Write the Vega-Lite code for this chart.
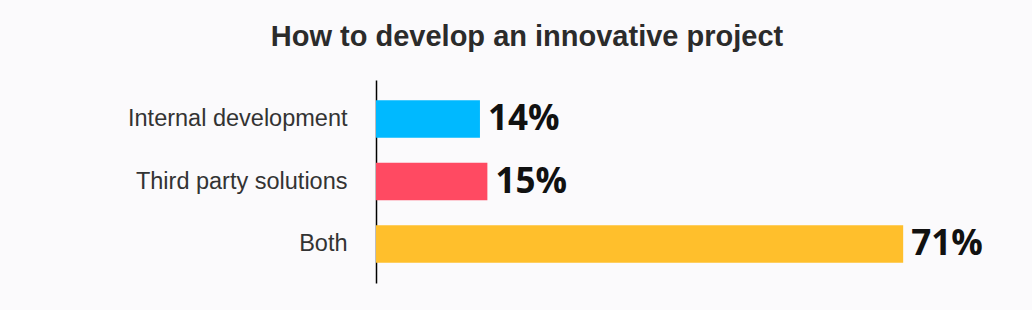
{
  "$schema": "https://vega.github.io/schema/vega-lite/v6.json",
  "width": 594,
  "height": 203,
  "autosize": {"type": "none"},
  "padding": {"left": 376, "top": 80, "right": 62, "bottom": 27},
  "background": "#fbfafc",
  "config": {"view": {"stroke": null}},
  "title": {
    "text": "How to develop an innovative project",
    "font": "Liberation Sans",
    "fontSize": 29,
    "fontWeight": "bold",
    "color": "#2b2b2b",
    "anchor": "middle",
    "frame": "group",
    "dx": -146,
    "offset": 5,
    "baseline": "alphabetic"
  },
  "data": {
    "values": [
      {"category": "Internal development", "value": 0.14},
      {"category": "Third party solutions", "value": 0.15},
      {"category": "Both", "value": 0.71}
    ]
  },
  "encoding": {
    "y": {
      "field": "category",
      "type": "nominal",
      "sort": null,
      "scale": {"paddingInner": 0.4, "paddingOuter": 0.324},
      "axis": {
        "title": null,
        "domain": true,
        "domainColor": "#000000",
        "domainWidth": 1.5,
        "ticks": false,
        "labelPadding": 29,
        "labelFont": "Liberation Sans",
        "labelFontSize": 23.5,
        "labelColor": "#333333",
        "labelLimit": 400
      }
    },
    "x": {
      "field": "value",
      "type": "quantitative",
      "scale": {"domain": [0, 0.8]},
      "axis": null
    }
  },
  "layer": [
    {
      "mark": {"type": "bar"},
      "encoding": {
        "color": {
          "field": "category",
          "type": "nominal",
          "scale": {
            "domain": ["Internal development", "Third party solutions", "Both"],
            "range": ["#00b9ff", "#ff4a62", "#ffbf2c"]
          },
          "legend": null
        }
      }
    },
    {
      "mark": {
        "type": "text",
        "align": "left",
        "baseline": "middle",
        "dx": 8,
        "font": "Open Sans",
        "fontSize": 35,
        "fontWeight": "bold",
        "color": "#111111"
      },
      "encoding": {"text": {"field": "value", "type": "quantitative", "format": ".0%"}}
    }
  ]
}
